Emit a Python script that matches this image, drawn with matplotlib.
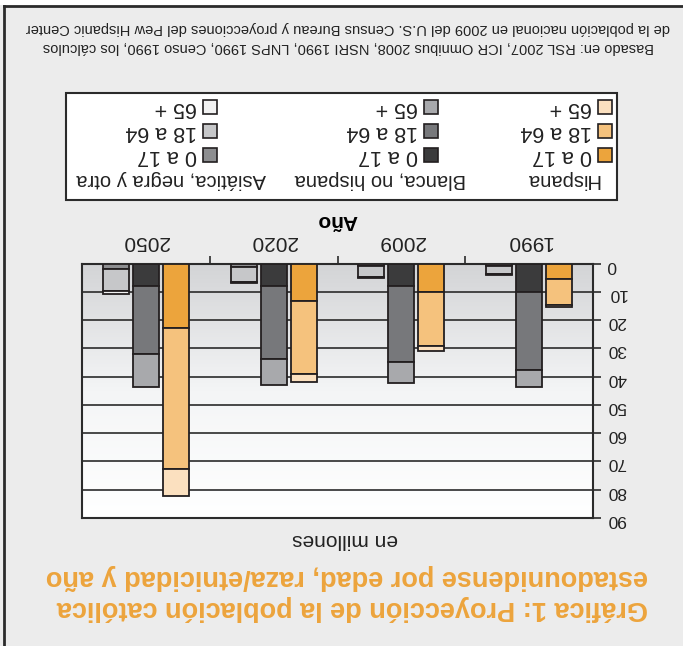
import numpy as np
import matplotlib
matplotlib.use("Agg")
import matplotlib.pyplot as plt
from matplotlib.colors import LinearSegmentedColormap
from matplotlib.patches import Rectangle
from matplotlib.lines import Line2D

plt.rcParams["font.family"] = ["Liberation Sans", "DejaVu Sans"]

# ---- data (millions of Catholics) ----
years = ["1990", "2009", "2020", "2050"]
hisp_0_17 = [5.4, 10.1, 13.2, 22.8]
hisp_18_64 = [9.3, 19.2, 25.7, 49.9]
hisp_65 = [0.7, 1.7, 2.9, 9.6]
white_0_17 = [10.1, 7.9, 7.9, 7.9]
white_18_64 = [27.4, 27.0, 25.7, 24.0]
white_65 = [6.1, 7.3, 9.2, 11.7]
other_0_17 = [1.0, 0.9, 1.3, 2.1]
other_18_64 = [2.6, 3.7, 5.1, 7.5]
other_65 = [0.3, 0.5, 0.5, 1.3]

groups = ["Hispana", "Blanca, no hispana", "Asiática, negra y otra"]
age_labels = ["0 a 17", "18 a 64", "65 +"]
yticks = [0, 10, 20, 30, 40, 50, 60, 70, 80, 90]

COLORS = {
    "Hispana": ["#eca43c", "#f5c27d", "#fbe0bf"],
    "Blanca, no hispana": ["#3b3b3c", "#77787b", "#a8a9ac"],
    "Asiática, negra y otra": ["#8d8e90", "#c6c7c9", "#f2f2f2"],
}
EDGE = "#231f20"
ORANGE = "#eca43c"
BG = "#ececec"

W, H = 683, 646
fig = plt.figure(figsize=(W / 100, H / 100), dpi=100, facecolor=BG)


def fx(px):
    return px / W


def fy(py):
    return 1 - py / H


# plot area (picture is upside down: 0 at top, 1990 on the right)
ax = fig.add_axes([fx(81.7), fy(518), fx(593.3) - fx(81.7), fy(263.5) - fy(518)])
ax.set_xlim(3.5, -0.5)
ax.set_ylim(90, 0)

cmap = LinearSegmentedColormap.from_list("bg", ["#ffffff", "#f4f5f6", "#d3d4d6"])
grad = np.linspace(0, 1, 256).reshape(-1, 1)
ax.imshow(grad, extent=[0, 1, 0, 1], transform=ax.transAxes, origin="lower",
          cmap=cmap, aspect="auto", zorder=0)

x = np.arange(len(years))
off = 0.2346
bw = 0.203
series = {
    "Hispana": [hisp_0_17, hisp_18_64, hisp_65],
    "Blanca, no hispana": [white_0_17, white_18_64, white_65],
    "Asiática, negra y otra": [other_0_17, other_18_64, other_65],
}
for gi, g in enumerate(groups):
    bottom = np.zeros(len(years))
    for ai, vals in enumerate(series[g]):
        ax.bar(x + (gi - 1) * off, vals, bw, bottom=bottom, color=COLORS[g][ai],
               edgecolor=EDGE, linewidth=1.3, zorder=3)
        bottom += np.array(vals)

ax.set_yticks(yticks)
ax.set_yticklabels([str(v) for v in yticks])
ax.yaxis.tick_right()
ax.yaxis.grid(True, color="#2b2b2b", linewidth=1.2)
ax.set_axisbelow(True)
ax.tick_params(axis="y", direction="out", length=6, width=1.2, color="#2b2b2b",
               labelsize=12.5, labelrotation=180, pad=4, labelcolor="#222222")

ax.xaxis.tick_top()
ax.set_xticks(x)
ax.set_xticklabels(years)
ax.set_xticks([0.5, 1.5, 2.5], minor=True)
ax.tick_params(axis="x", which="major", length=0, labelsize=15, labelrotation=180,
               pad=9, labelcolor="#222222")
ax.tick_params(axis="x", which="minor", length=6, width=1.2, color="#2b2b2b")
ax.xaxis.set_label_position("top")
ax.set_xlabel("Año", fontsize=15, fontweight="bold", rotation=180, labelpad=4)

for s in ax.spines.values():
    s.set_color("#2b2b2b")
    s.set_linewidth(1.5)

# ---- texts ----
fig.text(fx(345), fy(540), "en millones", fontsize=15, rotation=180,
         ha="center", va="center", color="#222222")
fig.text(fx(648), fy(608), "Gráfica 1: Proyección de la población católica",
         fontsize=19.5, fontweight="bold", color=ORANGE, rotation=180,
         ha="right", va="center")
fig.text(fx(648), fy(577), "estadounidense por edad, raza/etnicidad y año",
         fontsize=19.5, fontweight="bold", color=ORANGE, rotation=180,
         ha="right", va="center")
fig.text(fx(348), fy(47),
         "Basado en: RSL 2007, ICR Omnibus 2008, NSRI 1990, LNPS 1990, Censo 1990, los cálculos",
         fontsize=10.5, rotation=180, ha="center", va="center", color="#222222")
fig.text(fx(348), fy(28),
         "de la población nacional en 2009 del U.S. Census Bureau y proyecciones del Pew Hispanic Center",
         fontsize=10.5, rotation=180, ha="center", va="center", color="#222222")

# ---- legend box (drawn by hand, upside down) ----
fig.patches.append(Rectangle((fx(66), fy(200)), fx(617) - fx(66), fy(93) - fy(200),
                             transform=fig.transFigure, facecolor="white",
                             edgecolor="#2b2b2b", linewidth=1.5, zorder=1))
patch_right = [612, 438, 217]
header_cx = [562, 380, 171]
row_y = [155, 131, 107]
for gi, g in enumerate(groups):
    fig.text(fx(header_cx[gi]), fy(179), g, fontsize=14.5, rotation=180,
             ha="center", va="center", color="#222222", zorder=2)
    for ai, lab in enumerate(age_labels):
        pr = patch_right[gi]
        fig.patches.append(Rectangle((fx(pr - 14), fy(row_y[ai] + 7)), fx(14), 14 / H,
                                     transform=fig.transFigure, facecolor=COLORS[g][ai],
                                     edgecolor=EDGE, linewidth=1.2, zorder=2))
        fig.text(fx(pr - 20), fy(row_y[ai]), lab, fontsize=15.5, rotation=180,
                 ha="right", va="center", color="#222222", zorder=2)

# outer frame lines
fig.patches.append(Rectangle((0, fy(5)), 1, 5 / H, transform=fig.transFigure,
                             facecolor="white", edgecolor="none", zorder=0))
fig.lines.append(Line2D([fx(4), 1], [fy(6), fy(6)], transform=fig.transFigure,
                        color="#2b2b2b", linewidth=2))
fig.lines.append(Line2D([fx(4), fx(4)], [fy(6), 0], transform=fig.transFigure,
                        color="#2b2b2b", linewidth=2))

fig.savefig("out.png", dpi=100, facecolor=BG)
